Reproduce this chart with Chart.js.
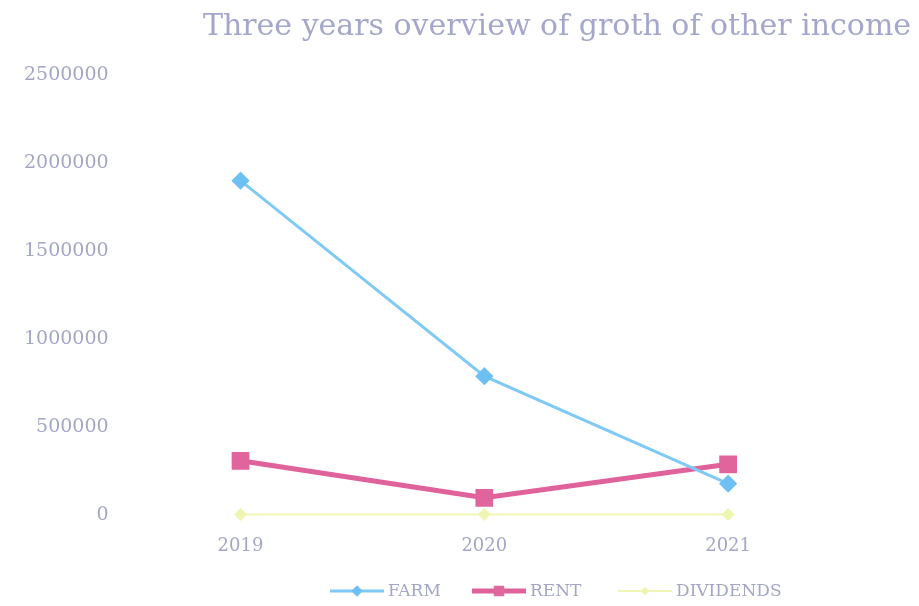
<!DOCTYPE html>
<html>
<head>
<meta charset="utf-8">
<script src="https://cdn.jsdelivr.net/npm/chart.js@4/dist/chart.umd.min.js"></script>
<style>
  html, body { margin: 0; padding: 0; background: #ffffff; }
  #wrap { width: 919px; height: 606px; }
</style>
</head>
<body>
<div id="wrap"><canvas id="incomeChart"></canvas></div>
<script>
// Jaren en inkomsten per soort
const years = ["2019", "2020", "2021"];
const farm = [1900000, 790000, 180000];
const rent = [310000, 100000, 290000];
const dividends = [5000, 5000, 5000];
const yTicks = [0, 500000, 1000000, 1500000, 2000000, 2500000];

const titleText = "Three years overview of groth of other income";
const textColor = "#a4a6c8";

// Titel tekenen boven het plotgebied
const titlePlugin = {
  id: "customTitle",
  afterDraw(chart) {
    const ctx = chart.ctx;
    ctx.save();
    ctx.font = "30px 'DejaVu Serif'";
    ctx.fillStyle = "#a4a7cb";
    ctx.textAlign = "center";
    ctx.textBaseline = "middle";
    ctx.fillText(titleText, 557, 27);
    ctx.restore();
  }
};

// Legenda onderaan met lijntje en marker
const legendPlugin = {
  id: "customLegend",
  afterDraw(chart) {
    const ctx = chart.ctx;
    const y = 591;
    const items = [
      { x: 330, ds: chart.data.datasets[0] },
      { x: 472, ds: chart.data.datasets[1] },
      { x: 618, ds: chart.data.datasets[2] }
    ];
    ctx.save();
    ctx.font = "17px 'DejaVu Serif'";
    ctx.textBaseline = "middle";
    items.forEach(item => {
      const ds = item.ds;
      ctx.strokeStyle = ds.borderColor;
      ctx.lineWidth = ds.borderWidth;
      ctx.beginPath();
      ctx.moveTo(item.x, y);
      ctx.lineTo(item.x + 54, y);
      ctx.stroke();
      ctx.fillStyle = ds.pointBackgroundColor;
      ctx.strokeStyle = ds.pointBorderColor;
      ctx.lineWidth = 1;
      Chart.helpers.drawPoint(ctx, {
        pointStyle: ds.pointStyle,
        radius: ds.pointRadius * 0.75,
        borderWidth: 1
      }, item.x + 27, y);
      ctx.fillStyle = textColor;
      ctx.fillText(ds.label, item.x + 58, y + 1);
    });
    ctx.restore();
  }
};

const ctx = document.getElementById("incomeChart").getContext("2d");

new Chart(ctx, {
  type: "line",
  data: {
    labels: years,
    datasets: [
      {
        label: "FARM",
        data: farm,
        borderColor: "#7fcaf4",
        borderWidth: 3,
        pointStyle: "rectRot",
        pointRadius: 7,
        pointBackgroundColor: "#6fc0f2",
        pointBorderColor: "#6fc0f2",
        tension: 0
      },
      {
        label: "RENT",
        data: rent,
        borderColor: "#e0629b",
        borderWidth: 5,
        pointStyle: "rect",
        pointRadius: 9,
        pointBackgroundColor: "#e0659d",
        pointBorderColor: "#e0659d",
        tension: 0
      },
      {
        label: "DIVIDENDS",
        data: dividends,
        borderColor: "#f0f6b8",
        borderWidth: 2,
        pointStyle: "rectRot",
        pointRadius: 5,
        pointBackgroundColor: "#eef5b0",
        pointBorderColor: "#eef5b0",
        tension: 0
      }
    ]
  },
  options: {
    responsive: true,
    maintainAspectRatio: false,
    animation: false,
    clip: false,
    layout: {
      padding: { left: 14, right: 69, top: 75, bottom: 29 }
    },
    scales: {
      x: {
        offset: true,
        grid: { display: false, drawTicks: false },
        border: { display: false },
        ticks: {
          padding: 20,
          color: textColor,
          font: { family: "'DejaVu Serif'", size: 18 }
        }
      },
      y: {
        min: yTicks[0],
        max: yTicks[yTicks.length - 1],
        grid: { display: false, drawTicks: false },
        border: { display: false },
        afterBuildTicks(axis) {
          axis.ticks = yTicks.map(v => ({ value: v }));
        },
        ticks: {
          padding: 10,
          color: textColor,
          font: { family: "'DejaVu Serif'", size: 19 },
          callback: value => String(value)
        }
      }
    },
    plugins: {
      legend: { display: false },
      title: { display: false },
      tooltip: { enabled: false }
    }
  },
  plugins: [titlePlugin, legendPlugin]
});
</script>
</body>
</html>
